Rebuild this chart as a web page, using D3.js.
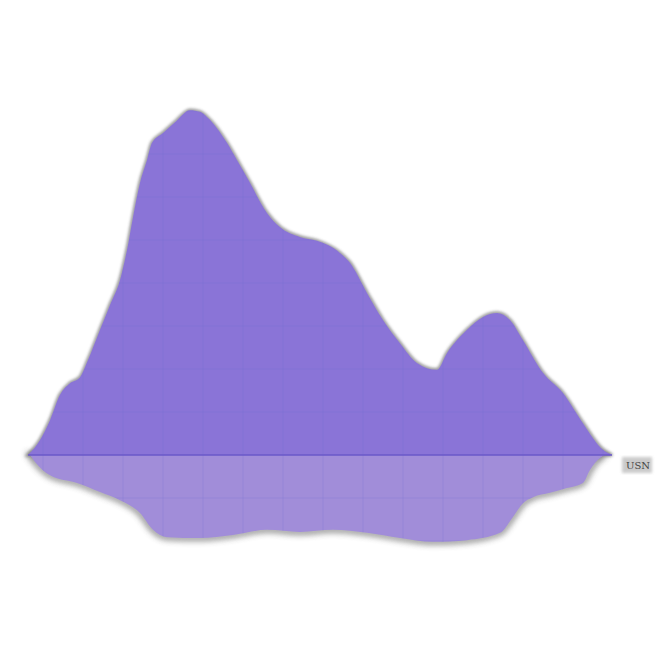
<!DOCTYPE html>
<html>
<head>
<meta charset="utf-8">
<script src="https://cdn.jsdelivr.net/npm/d3@7"></script>
<style>
html,body{margin:0;padding:0;background:#fff;}
svg{display:block;}
</style>
</head>
<body>
<svg id="chart" width="655" height="655"></svg>
<script>
// ---- data ----
const upperX = [2.5,3.7,4.7,5.7,6.7,7.7,8.5,9.7,10.7,11.7,12.4,13,13.7,14.4,14.9,16,17.2,18.7,19.7,20.4,22.4,23.4,24.7,26.4,27.7,29.7,31.4,33.7,34.7,36.4,38,39.7,41.4,43.4,44.4,46.4,48,49.4,50.7,52,54,56,58,60,60.9];
const upperY = [0,3.5,8.1,14,16.7,18.1,22.1,29.1,34.9,40.7,47.7,55.3,63.3,68.6,72.6,74.9,77.4,80.2,79.8,78.6,72.6,68.6,63.3,56.3,53,50.7,49.8,47,44.7,37.7,31.4,26,21.4,19.8,23.7,29.1,32.1,33,31.4,26.7,19.1,14.4,7.4,1.2,0];
const lowerX = [2.7,3.2,4.7,7.4,9.7,11.7,13.7,15,16.4,19.7,23,26.4,29.7,33,36.4,39.7,43,46.4,49.7,51,52,53,54.7,56.4,58,58.7,59.7,60.2];
const lowerY = [0,-1.6,-4.7,-6.5,-8.6,-10.5,-13.5,-17.4,-19.1,-19.3,-18.6,-17.4,-17.9,-17.4,-18.1,-19.3,-20.2,-19.8,-18.1,-14.4,-11.2,-9.8,-8.8,-7.7,-6.5,-3.5,-0.7,0];
const xTicks = [4,8,12,16,20,24,28,32,36,40,44,48,52,56,60];
const yTicks = [-20,-10,10,20,30,40,50,60,70,80];
const seriesLabel = "USN";

// ---- scales ----
const svg = d3.select("#chart");
const x = d3.scaleLinear().domain([0, 65]).range([3, 653]);
const y = d3.scaleLinear().domain([0, 100]).range([455, 25]);

const upperData = upperX.map((d,i)=>({x:d, y:upperY[i]}));
const lowerData = lowerX.map((d,i)=>({x:d, y:lowerY[i]}));

const area = d3.area().x(d=>x(d.x)).y0(y(0)).y1(d=>y(d.y)).curve(d3.curveMonotoneX);

const defs = svg.append("defs");
const blur = defs.append("filter").attr("id","blur").attr("x","-10%").attr("y","-10%").attr("width","120%").attr("height","120%");
blur.append("feGaussianBlur").attr("stdDeviation",1.6);
const blur2 = defs.append("filter").attr("id","blur2").attr("x","-10%").attr("y","-30%").attr("width","120%").attr("height","160%");
blur2.append("feGaussianBlur").attr("stdDeviation",3);
const blur3 = defs.append("filter").attr("id","blur3").attr("x","-50%").attr("y","-200%").attr("width","200%").attr("height","500%");
blur3.append("feGaussianBlur").attr("stdDeviation",2.2);

defs.append("clipPath").attr("id","clipU").append("path").attr("d", area(upperData));
defs.append("clipPath").attr("id","clipL").append("path").attr("d", area(lowerData));

// gray axis line (shadowed)
svg.append("line").attr("x1", x(0.3)).attr("x2", x(64.8)).attr("y1", y(0)+1).attr("y2", y(0)+1)
  .attr("stroke","#7e7e7e").attr("stroke-width",4).attr("filter","url(#blur3)");

// shadows
svg.append("path").attr("d", area(lowerData)).attr("fill","none").attr("stroke","#6f6f6f")
  .attr("stroke-width",5).attr("filter","url(#blur2)").attr("opacity",0.9);
svg.append("path").attr("d", area(upperData)).attr("fill","none").attr("stroke","#7a7a7a")
  .attr("stroke-width",3).attr("filter","url(#blur)").attr("opacity",0.9);

// fills
svg.append("path").attr("d", area(lowerData)).attr("fill","#a18dd9");
svg.append("path").attr("d", area(upperData)).attr("fill","#8a74d7");

// gridlines clipped to areas
["clipU","clipL"].forEach(id=>{
  const g = svg.append("g").attr("clip-path",`url(#${id})`);
  g.selectAll("line.v").data(xTicks).join("line")
    .attr("x1",d=>x(d)).attr("x2",d=>x(d)).attr("y1",0).attr("y2",655)
    .attr("stroke","#6e6fd0").attr("stroke-opacity",0.22).attr("stroke-width",1);
  g.selectAll("line.h").data(yTicks).join("line")
    .attr("x1",0).attr("x2",655).attr("y1",d=>y(d)).attr("y2",d=>y(d))
    .attr("stroke","#6e6fd0").attr("stroke-opacity",0.22).attr("stroke-width",1);
});

// baseline
svg.append("line").attr("x1", x(2.5)).attr("x2", x(60.9)).attr("y1", y(0)).attr("y2", y(0))
  .attr("stroke","#6a58c8").attr("stroke-width",1.5);

// label
svg.append("rect").attr("x", 622).attr("y", 457).attr("width", 30).attr("height", 16)
  .attr("fill","#b5b5b5").attr("filter","url(#blur)").attr("opacity",0.7);
svg.append("text").attr("x", 638).attr("y", 469).attr("text-anchor","middle")
  .attr("font-family","DejaVu Serif, serif").attr("font-size",10).attr("fill","#444")
  .text(seriesLabel);
</script>
</body>
</html>
